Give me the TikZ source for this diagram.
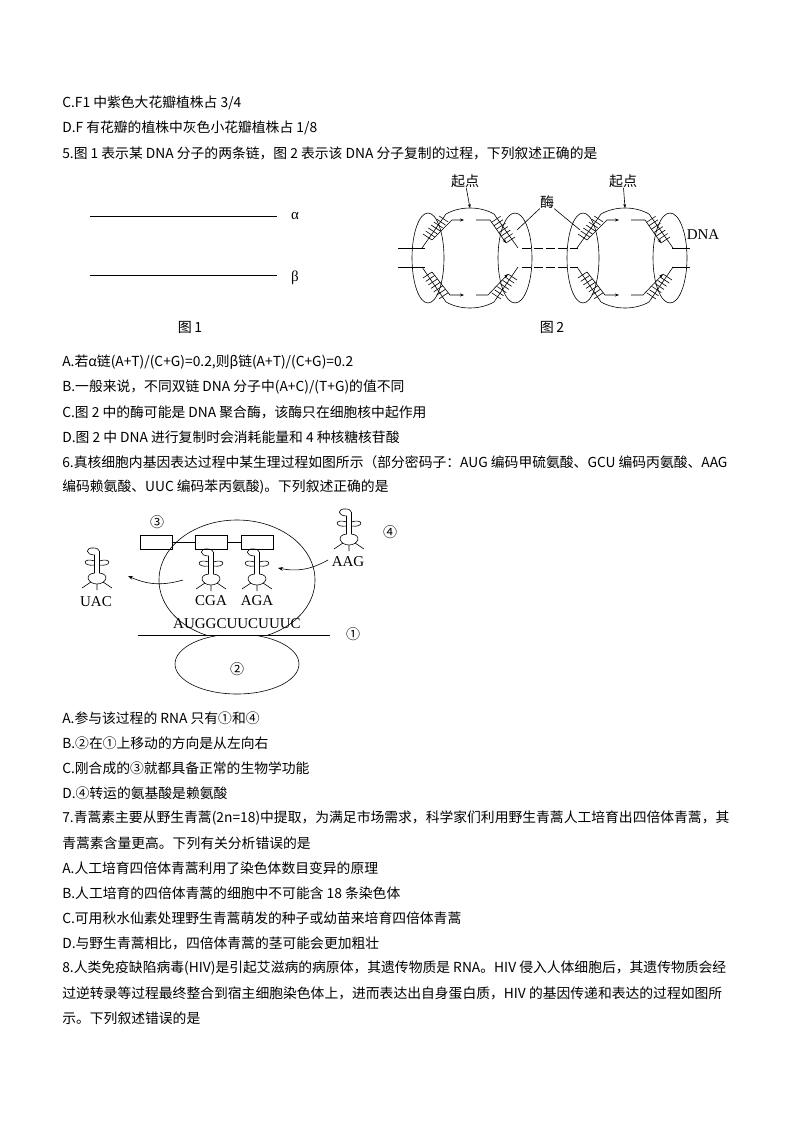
\documentclass[tikz,border=0pt]{standalone}
\usepackage{fontspec}
\setmainfont{Liberation Serif}
\newfontfamily\cjk{Noto Sans CJK SC}
\usetikzlibrary{arrows.meta,calc}
\tikzset{
  line/.style={anchor=west,inner sep=0pt,font=\cjk\fontsize{13.8}{15}\selectfont},
  lab/.style={inner sep=0pt,font=\fontsize{15}{16}\selectfont},
  cjklab/.style={inner sep=0pt,font=\cjk\fontsize{14}{16}\selectfont},
  hatch/.style={line width=0.6pt},
  pics/trna/.style={code={
    \draw (-1.5,4) -- (-1.5,22) (1.5,0) -- (1.5,22);
    \draw (-1.5,4) .. controls (-8,4) and (-8,-4) .. (-2,-3) .. controls (0,-3) .. (1.5,0);
    \draw (-1.5,10) .. controls (-10,6) and (-10,16) .. (-1.5,14);
    \draw (1.5,10) .. controls (10,6) and (10,16) .. (1.5,14);
    \draw (-1.5,22) .. controls (-9,23) and (-6,33) .. (0,33) .. controls (6,33) and (9,23) .. (1.5,22);
    \draw (-4,31) -- (-10,37) (0,33) -- (0,39) (4,31) -- (10,37);
  }}
}
\begin{document}
\begin{tikzpicture}[x=1pt,y=-1pt,line width=0.6pt]
\useasboundingbox (0,0) rectangle (794,1123);
% question text
\node[line] (l1) at (62,103) {C.F1 中紫色大花瓣植株占 3/4};
\node[line] (l2) at (62,128) {D.F 有花瓣的植株中灰色小花瓣植株占 1/8};
\node[line] (l3) at (62,153) {5.图 1 表示某 DNA 分子的两条链，图 2 表示该 DNA 分子复制的过程，下列叙述正确的是};
% figure 1
\draw (90,216) -- (277,216);
\draw (90,275) -- (277,275);
\node[lab] (alpha) at (295,216) {α};
\node[lab] (beta) at (295,278) {β};
\node[cjklab] (cap1) at (190,327) {图\,1};
% figure 2
\draw (398,248) -- (425,248) (398,267) -- (425,267);
\draw[dashed,dash pattern=on 9pt off 3pt] (522,248) -- (578,248) (522,267) -- (578,267);
\draw (672,248) -- (690,248) (672,267) -- (690,267);
\foreach \cx/\nm in {470/a,625/b}{
  \begin{scope}[shift={(\cx,0)}]
    \coordinate (top\nm) at (0,208);
    \draw (-48,248) -- (-24,214) .. controls (-10,206) and (10,206) .. (24,214) -- (48,248);
    \draw (-48,267) -- (-24,302) .. controls (-10,310) and (10,310) .. (24,302) -- (48,267);
    % new strands
    \draw[-{Stealth[length=4pt]}] (-38,240) -- (-18,220) -- (-6,220);
    \draw[-{Stealth[length=4pt]}] (6,220) -- (20,220) -- (36,243);
    \draw[-{Stealth[length=4pt]}] (-38,272) -- (-20,295) -- (-6,295);
    \draw[-{Stealth[length=4pt]}] (6,295) -- (18,295) -- (38,274);
    \foreach \t in {0,0.15,...,0.9}{
      \draw[hatch] ($(-38,240)!\t!(-20,220)$) -- ++(-9,-6);
      \draw[hatch] ($(36,243)!\t!(20,220)$) -- ++(9,-6);
      \draw[hatch] ($(-38,272)!\t!(-20,295)$) -- ++(-9,6);
      \draw[hatch] ($(38,274)!\t!(20,295)$) -- ++(9,6);
    }
    \draw (-42,258) ellipse[x radius=16,y radius=45];
    \draw (45,258) ellipse[x radius=17,y radius=45];
  \end{scope}
}
\node[cjklab] (qd1) at (465,181) {起点};
\node[cjklab] (qd2) at (623,181) {起点};
\draw[-{Stealth[length=4pt]}] (qd1) -- (topa);
\draw[-{Stealth[length=4pt]}] (qd2) -- (topb);
\node[cjklab] (mei) at (547,202) {酶};
\coordinate (ma) at (517,230);
\coordinate (mb) at (580,230);
\draw (mei.south west) -- (ma) (mei.south east) -- (mb);
\node[lab] (dna) at (703,235) {DNA};
\node[cjklab] (cap2) at (552,327) {图\,2};
% options 5
\node[line] (l4) at (62,362) {A.若α链(A+T)/(C+G)=0.2,则β链(A+T)/(C+G)=0.2};
\node[line] (l5) at (62,387) {B.一般来说，不同双链 DNA 分子中(A+C)/(T+G)的值不同};
\node[line] (l6) at (62,412) {C.图 2 中的酶可能是 DNA 聚合酶，该酶只在细胞核中起作用};
\node[line] (l7) at (62,437) {D.图 2 中 DNA 进行复制时会消耗能量和 4 种核糖核苷酸};
\node[line] (l8) at (62,462) {6.真核细胞内基因表达过程中某生理过程如图所示（部分密码子：AUG 编码甲硫氨酸、GCU 编码丙氨酸、AAG};
\node[line] (l9) at (62,487) {编码赖氨酸、UUC 编码苯丙氨酸)。下列叙述正确的是};
% figure 6
\begin{scope}
  \clip (100,500) rectangle (400,635);
  \draw (237,580) ellipse[x radius=78,y radius=60];
\end{scope}
\begin{scope}
  \clip (100,635) rectangle (400,700);
  \draw (237,664) ellipse[x radius=62,y radius=30];
\end{scope}
\draw (138,635) -- (330,635);
\node[lab] (mrna) at (237,624) {AUGGCUUCUUUC};
\node[cjklab] (n1) at (353,634) {①};
\node[cjklab] (n2) at (237,669) {②};
\node[cjklab] (n3) at (157,522) {③};
\node[cjklab] (n4) at (390,532) {④};
\node[draw,minimum width=32pt,minimum height=14pt,inner sep=0pt] (aa1) at (156,542) {};
\node[draw,minimum width=32pt,minimum height=14pt,inner sep=0pt] (aa2) at (211,542) {};
\node[draw,minimum width=32pt,minimum height=14pt,inner sep=0pt] (aa3) at (257,542) {};
\draw (aa1) -- (aa2) -- (aa3);
\pic[xscale=1.5] at (211,552) {trna};
\pic[xscale=1.5] at (257,552) {trna};
\pic[xscale=1.5] at (97,551) {trna};
\pic[xscale=1.5] at (349,512) {trna};
\node[lab] (cga) at (211,601) {CGA};
\node[lab] (aga) at (257,601) {AGA};
\node[lab] (uac) at (96,602) {UAC};
\node[lab] (aag) at (348,562) {AAG};
\coordinate (outs) at (183,580);
\coordinate (oute) at (128,576);
\coordinate (ins) at (328,560);
\coordinate (ine) at (278,568);
\draw[-{Stealth[length=5pt]}] (outs) to[bend left=20] (oute);
\draw[-{Stealth[length=5pt]}] (ins) to[bend left=20] (ine);
% options 6, question 7, 8
\node[line] (l10) at (62,718) {A.参与该过程的 RNA 只有①和④};
\node[line] (l11) at (62,743) {B.②在①上移动的方向是从左向右};
\node[line] (l12) at (62,768) {C.刚合成的③就都具备正常的生物学功能};
\node[line] (l13) at (62,793) {D.④转运的氨基酸是赖氨酸};
\node[line] (l14) at (62,818) {7.青蒿素主要从野生青蒿(2n=18)中提取，为满足市场需求，科学家们利用野生青蒿人工培育出四倍体青蒿，其};
\node[line] (l15) at (62,843) {青蒿素含量更高。下列有关分析错误的是};
\node[line] (l16) at (62,868) {A.人工培育四倍体青蒿利用了染色体数目变异的原理};
\node[line] (l17) at (62,893) {B.人工培育的四倍体青蒿的细胞中不可能含 18 条染色体};
\node[line] (l18) at (62,918) {C.可用秋水仙素处理野生青蒿萌发的种子或幼苗来培育四倍体青蒿};
\node[line] (l19) at (62,943) {D.与野生青蒿相比，四倍体青蒿的茎可能会更加粗壮};
\node[line] (l20) at (62,968) {8.人类免疫缺陷病毒(HIV)是引起艾滋病的病原体，其遗传物质是 RNA。HIV 侵入人体细胞后，其遗传物质会经};
\node[line] (l21) at (62,993) {过逆转录等过程最终整合到宿主细胞染色体上，进而表达出自身蛋白质，HIV 的基因传递和表达的过程如图所};
\node[line] (l22) at (62,1018) {示。下列叙述错误的是};
\end{tikzpicture}
\end{document}
